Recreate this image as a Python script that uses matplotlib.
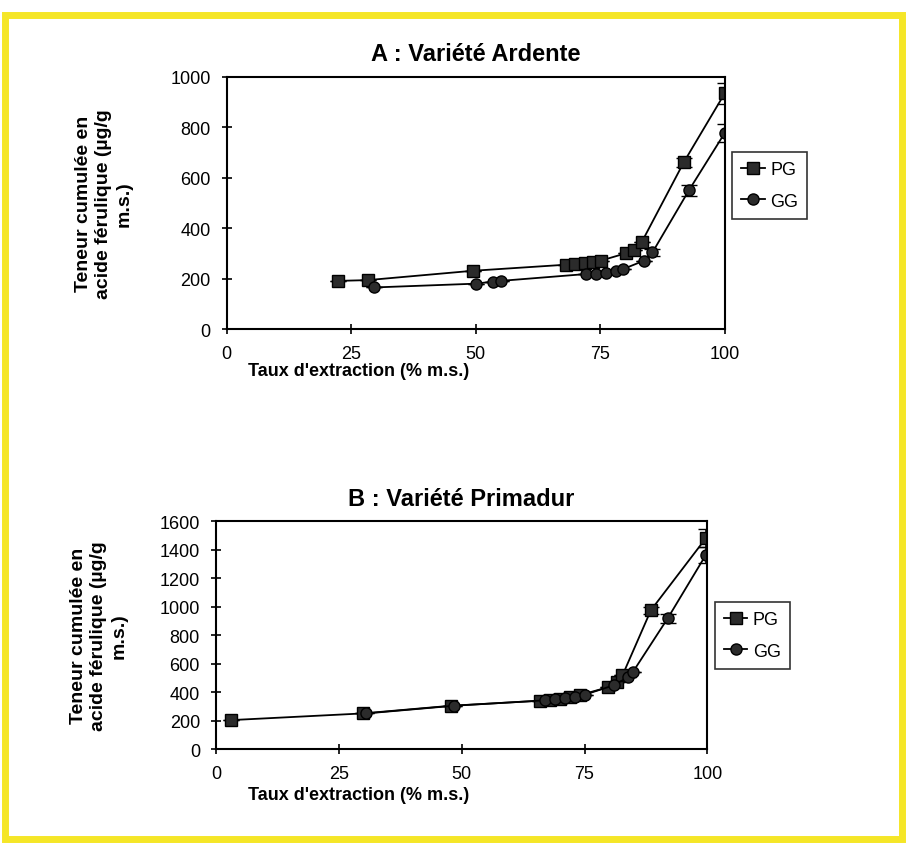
import matplotlib
matplotlib.use("Agg")
import matplotlib.pyplot as plt
from matplotlib.patches import Rectangle

plt.rcParams["font.family"] = ["Liberation Sans", "DejaVu Sans"]

# A : Variété Ardente
a_pg_x = [22.3, 28.3, 49.4, 68.1, 70.0, 72.0, 73.5, 75.1, 80.1, 81.8, 83.3, 91.8, 100.0]
a_pg_y = [192, 195, 232, 256, 259, 262, 265, 272, 301, 314, 344, 662, 934]
a_pg_err = [0, 0, 0, 0, 0, 0, 0, 0, 0, 0, 0, 18, 42]
a_gg_x = [29.6, 50.0, 53.4, 55.0, 72.1, 74.1, 76.1, 78.1, 79.5, 83.8, 85.5, 92.8, 100.0]
a_gg_y = [166, 181, 189, 192, 219, 219, 225, 232, 238, 272, 305, 550, 777]
a_gg_err = [0, 0, 0, 0, 0, 0, 0, 0, 0, 0, 15, 22, 36]

# B : Variété Primadur
b_pg_x = [3.0, 29.9, 47.9, 66.0, 68.0, 70.0, 72.0, 74.0, 79.7, 81.7, 82.7, 88.5, 99.7]
b_pg_y = [205, 252, 306, 341, 348, 356, 366, 380, 435, 470, 518, 976, 1482]
b_pg_err = [0, 0, 0, 0, 0, 0, 0, 0, 0, 0, 0, 25, 60]
b_gg_x = [30.6, 48.5, 67.0, 69.0, 71.0, 73.0, 75.0, 81.0, 83.8, 84.8, 91.9, 99.7]
b_gg_y = [252, 306, 344, 350, 358, 368, 383, 450, 506, 541, 918, 1365]
b_gg_err = [0, 0, 0, 0, 0, 0, 0, 0, 0, 0, 30, 55]

x_ticks = [0, 25, 50, 75, 100]
ylabel = "Teneur cumulée en\nacide férulique (µg/g\nm.s.)"
xlabel = "Taux d'extraction (% m.s.)"


def panel(ax, pg, gg, ymax, ystep, title, xlab_x, leg_y):
    for (x, y, e), mk, lab in [(pg, "s", "PG"), (gg, "o", "GG")]:
        ax.errorbar(x, y, yerr=e, color="black", lw=1.3, marker=mk, ms=8,
                    mfc="#2b2b2b", mec="black", capsize=6, elinewidth=1.2)
        # legend handle without the error bar
        ax.plot([], [], color="black", lw=1.3, marker=mk, ms=8,
                mfc="#2b2b2b", mec="black", label=lab)
    ax.set_xlim(0, 100)
    ax.set_ylim(0, ymax)
    ax.set_xticks(x_ticks)
    ax.set_yticks(range(0, ymax + 1, ystep))
    ax.tick_params(direction="inout", length=7, width=1.2, labelsize=13, pad=8)
    for s in ax.spines.values():
        s.set_linewidth(1.5)
    ax.set_title(title, fontsize=17, fontweight="bold", pad=12)
    ax.set_xlabel(xlabel, fontsize=13, fontweight="bold")
    ax.xaxis.set_label_coords(xlab_x, -0.13 if ymax == 1000 else -0.16)
    ax.set_ylabel(ylabel, fontsize=14, fontweight="bold", linespacing=1.25)
    ax.yaxis.set_label_coords(-0.19 if ymax == 1000 else -0.18, 0.5)
    leg = ax.legend(loc="center left", bbox_to_anchor=(1.015, leg_y), fontsize=13,
                    frameon=True, fancybox=False, edgecolor="black",
                    handlelength=1.3, handletextpad=0.3, borderpad=0.5,
                    labelspacing=0.8, borderaxespad=0)
    leg.get_frame().set_linewidth(1.2)


fig = plt.figure(figsize=(9.07, 8.45), dpi=100)
ax1 = fig.add_axes([0.250, 0.609, 0.549, 0.299])
ax2 = fig.add_axes([0.238, 0.112, 0.542, 0.270])

panel(ax1, (a_pg_x, a_pg_y, a_pg_err), (a_gg_x, a_gg_y, a_gg_err), 1000, 200,
      "A : Variété Ardente", 0.265, 0.57)
panel(ax2, (b_pg_x, b_pg_y, b_pg_err), (b_gg_x, b_gg_y, b_gg_err), 1600, 200,
      "B : Variété Primadur", 0.29, 0.50)

# yellow frame of the scanned page
fig.add_artist(Rectangle((0.005, 0.006), 0.99, 0.975, transform=fig.transFigure,
                         fill=False, edgecolor="#f5e627", linewidth=5))

fig.savefig("out.png", dpi=100)
